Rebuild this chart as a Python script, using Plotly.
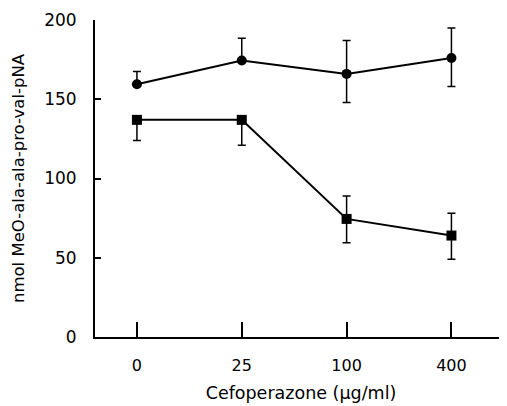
import plotly.graph_objects as go

categories = ["0", "25", "100", "400"]
circle_vals = [159.5, 174.5, 166, 176]
circle_err_plus = [8, 14, 21, 19]
circle_err_minus = [0, 0, 18, 18]
square_vals = [137, 137, 74.5, 64]
square_err_plus = [0, 0, 14.5, 14]
square_err_minus = [13, 16, 15, 15]

xpos = list(range(len(categories)))

fig = go.Figure()
fig.add_trace(go.Scatter(
    x=xpos, y=circle_vals, mode="lines+markers",
    line=dict(color="black", width=2),
    marker=dict(symbol="circle", size=10, color="black"),
    error_y=dict(type="data", symmetric=False, array=circle_err_plus,
                 arrayminus=circle_err_minus, color="black", thickness=1.5, width=4),
    showlegend=False))
fig.add_trace(go.Scatter(
    x=xpos, y=square_vals, mode="lines+markers",
    line=dict(color="black", width=2),
    marker=dict(symbol="square", size=10, color="black"),
    error_y=dict(type="data", symmetric=False, array=square_err_plus,
                 arrayminus=square_err_minus, color="black", thickness=1.5, width=4),
    showlegend=False))

fam = "DejaVu Sans"
fig.update_layout(
    width=499, height=398,
    margin=dict(l=87, r=0, t=12, b=69),
    paper_bgcolor="white", plot_bgcolor="white",
    font=dict(family=fam, size=16, color="black"),
    xaxis=dict(range=[-0.4, 3.53], tickvals=xpos, ticktext=categories,
               showgrid=False, zeroline=False, showline=True, linecolor="black",
               linewidth=2, ticks="inside", ticklen=15, tickwidth=2, tickcolor="black",
               ticklabelstandoff=13, automargin=False,
               tickfont=dict(family=fam, size=16, color="black"),
               title=dict(text="Cefoperazone (μg/ml)", standoff=13,
                          font=dict(family=fam, size=17.5, color="black"))),
    yaxis=dict(range=[0, 200], tickvals=[0, 50, 100, 150, 200],
               showgrid=False, zeroline=False, showline=True, linecolor="black",
               linewidth=2, ticks="inside", ticklen=6, tickwidth=1.5, tickcolor="black",
               ticklabelstandoff=13, automargin=False,
               tickfont=dict(family=fam, size=17, color="black"),
               title=dict(text="nmol MeO-ala-ala-pro-val-pNA", standoff=15,
                          font=dict(family=fam, size=16.5, color="black"))),
)
fig.write_html("out.html")
